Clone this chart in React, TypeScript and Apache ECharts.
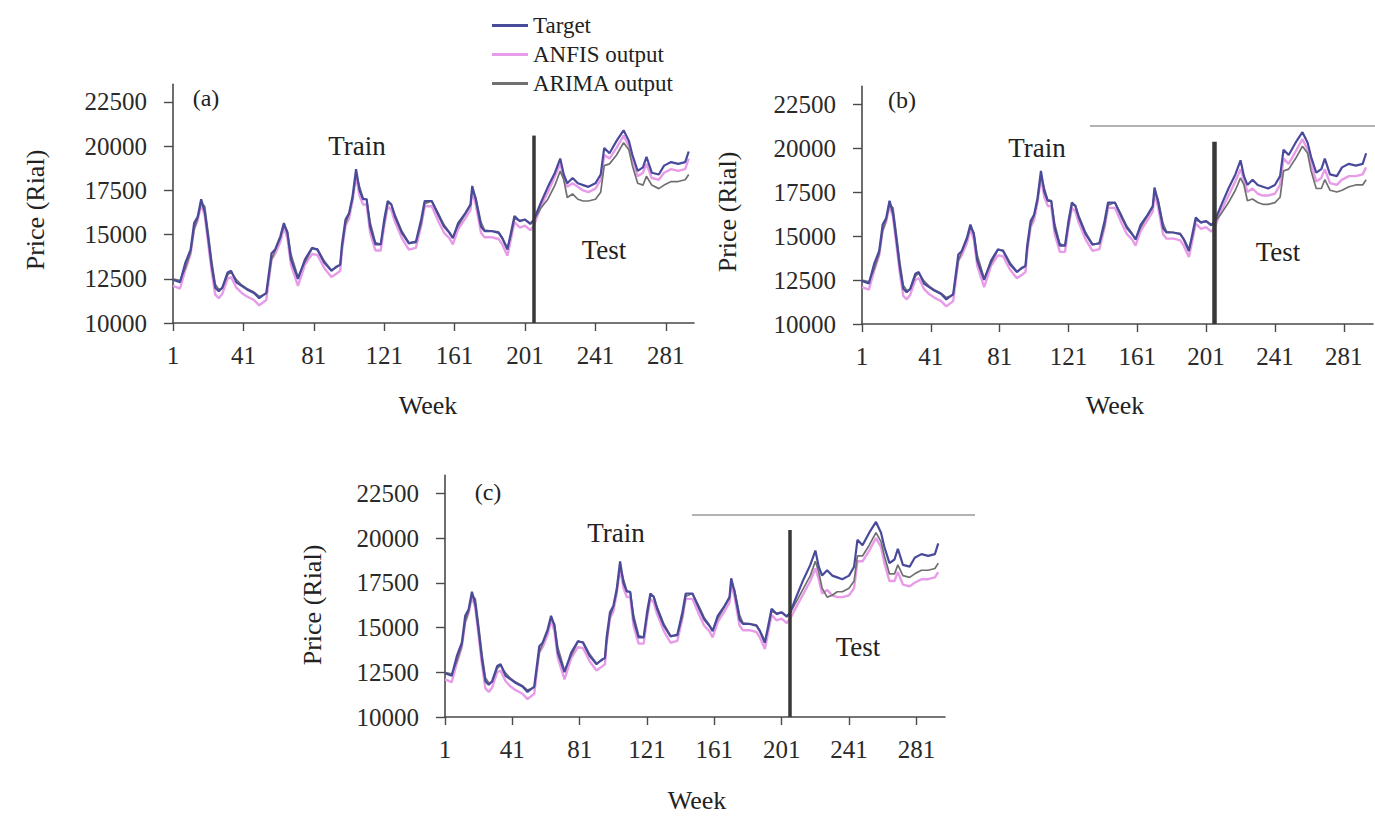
import React, { useEffect, useRef } from "react";
import * as echarts from "echarts";

// ---- data ----
const weeks = [
  1, 5, 8, 11, 13, 15, 17, 19, 21, 23, 25, 27, 29, 32, 34, 37, 40, 43, 47, 50,
  54, 57, 59, 62, 64, 66, 68, 72, 76, 80, 83, 87, 91, 94, 96, 97, 99, 101, 103, 105,
  107, 109, 111, 113, 116, 119, 121, 123, 125, 127, 131, 135, 139, 142, 144, 148, 152, 155, 158, 160,
  163, 167, 170, 171, 173, 176, 178, 182, 186, 188, 191, 193, 195, 198, 201, 204, 206,
  210, 214, 218, 221, 223, 225, 228, 231, 234, 237, 241, 244, 246, 249, 253, 257, 260, 262,
  265, 268, 270, 273, 277, 280, 284, 288, 292, 294,
];

const target = [
  12450, 12300, 13400, 14150, 15650, 16000, 17000, 16300, 14800, 13200, 12000, 11800, 12000, 12850, 12950, 12300, 12100, 11900, 11700, 11400,
  11700, 13950, 14150, 14900, 15650, 15100, 13600, 12500, 13600, 14250, 14150, 13400, 12950, 13200, 13300, 14450, 15850, 16200, 17150, 18700,
  17500, 17000, 17000, 15450, 14450, 14450, 15850, 16900, 16700, 16050, 15100, 14500, 14600, 15850, 16900, 16900, 16050, 15450, 15100, 14800,
  15650, 16200, 16700, 17750, 17000, 15450, 15200, 15200, 15100, 14800, 14150, 15100, 16050, 15750, 15850, 15600, 15850,
  16800, 17700, 18500, 19300, 18400, 17900, 18200, 17900, 17800, 17700, 17900, 18400, 19900, 19600, 20300, 20900, 20300, 19500,
  18600, 18800, 19400, 18500, 18400, 18900, 19100, 19000, 19100, 19700,
];

const anfisTrain = [
  12100, 11950, 13000, 13900, 15300, 15800, 16700, 16100, 14500, 12900, 11600, 11400, 11650, 12500, 12600, 12000, 11700, 11500, 11300, 11000,
  11300, 13600, 13900, 14600, 15400, 14800, 13300, 12100, 13300, 13900, 13850, 13100, 12600, 12800, 12950, 14100, 15500, 15900, 16900, 18300,
  17200, 16700, 16700, 15100, 14100, 14100, 15500, 16600, 16400, 15750, 14800, 14150, 14250, 15500, 16600, 16600, 15700, 15100, 14800, 14450,
  15300, 15900, 16400, 17400, 16700, 15100, 14850, 14850, 14750, 14450, 13800, 14750, 15700, 15400, 15500, 15250, 15500,
];

const arimaTrain = [
  12500, 12400, 13100, 14000, 15300, 15900, 16800, 16600, 15100, 13500, 12200, 11900, 11950, 12700, 12900, 12450, 12150, 11950, 11750, 11500,
  11650, 13600, 14100, 14800, 15500, 15200, 13900, 12600, 13450, 14200, 14200, 13500, 13000, 13150, 13300, 14200, 15600, 16150, 17000, 18400,
  17700, 17050, 17000, 15700, 14550, 14450, 15600, 16750, 16750, 16150, 15200, 14550, 14550, 15600, 16750, 16900, 16150, 15550, 15150, 14850,
  15500, 16150, 16650, 17500, 17100, 15700, 15250, 15200, 15150, 14850, 14250, 14950, 15900, 15800, 15850, 15650, 15800,
];

const anfisTestA = [
  16600, 17400, 18300, 19000, 18300, 17700, 17900, 17700, 17500, 17400, 17600, 18100, 19500, 19300, 19900, 20600, 20000, 19300,
  18300, 18500, 19000, 18200, 18100, 18500, 18700, 18600, 18700, 19300,
];
const arimaTestA = [
  16500, 17000, 17800, 18600, 18100, 17100, 17300, 17000, 16900, 16900, 17000, 17400, 18900, 19000, 19500, 20200, 19800, 18900,
  17900, 17800, 18300, 17800, 17600, 17800, 18000, 18000, 18100, 18400,
];
const anfisTestB = [
  16500, 17300, 18100, 18800, 18200, 17500, 17700, 17400, 17300, 17300, 17400, 17900, 19400, 19100, 19800, 20500, 19900, 19100,
  18100, 18300, 18800, 18000, 17900, 18200, 18400, 18400, 18500, 18900,
];
const arimaTestB = [
  16300, 16900, 17600, 18300, 17900, 17000, 17100, 16900, 16800, 16800, 16900, 17200, 18700, 18800, 19400, 20100, 19700, 18700,
  17700, 17700, 18200, 17600, 17500, 17600, 17800, 17900, 17900, 18200,
];
const anfisTestC = [
  16200, 16900, 17600, 18300, 17700, 16900, 17100, 16800, 16700, 16700, 16800, 17200, 18700, 18700, 19300, 20000, 19500, 18600,
  17600, 17600, 18100, 17400, 17300, 17500, 17700, 17700, 17800, 18100,
];
const arimaTestC = [
  16500, 17200, 17900, 18700, 18100, 17200, 16700, 16800, 17000, 17000, 17200, 17600, 19000, 19000, 19600, 20300, 19800, 19000,
  18000, 18000, 18500, 17900, 17800, 18000, 18200, 18200, 18300, 18600,
];

const xTickLabels = [1, 41, 81, 121, 161, 201, 241, 281];
const yTickLabels = [10000, 12500, 15000, 17500, 20000, 22500];
const seriesNames = ["Target", "ANFIS output", "ARIMA output"];
const panelLabels = ["(a)", "(b)", "(c)"];
const splitWeek = 206;

const FONT = "Liberation Serif";
const COLORS = { target: "#4a4a9c", anfis: "#e79be8", arima: "#707070" };

const panels = [
  {
    grid: { left: 173, top: 84.3, width: 521, height: 238.7 },
    xMax: 297,
    anfis: anfisTrain.concat(anfisTestA),
    arima: arimaTrain.concat(arimaTestA),
    dividerTop: 20600,
    dividerWidth: 3.5,
  },
  {
    grid: { left: 862, top: 86.4, width: 511, height: 237.6 },
    xMax: 298,
    anfis: anfisTrain.concat(anfisTestB),
    arima: arimaTrain.concat(arimaTestB),
    dividerTop: 20350,
    dividerWidth: 4.5,
  },
  {
    grid: { left: 445, top: 475.4, width: 500, height: 241.6 },
    xMax: 298,
    anfis: anfisTrain.concat(anfisTestC),
    arima: arimaTrain.concat(arimaTestC),
    dividerTop: 20450,
    dividerWidth: 3.5,
  },
];

const textLabels = [
  // panel a
  { t: panelLabels[0], x: 206, y: 98, s: 24 },
  { t: "Train", x: 357, y: 146, s: 27 },
  { t: "Test", x: 604, y: 250, s: 27 },
  { t: "Week", x: 428, y: 405, s: 26 },
  // panel b
  { t: panelLabels[1], x: 902, y: 100, s: 24 },
  { t: "Train", x: 1037, y: 148, s: 27 },
  { t: "Test", x: 1278, y: 252, s: 27 },
  { t: "Week", x: 1115, y: 405, s: 26 },
  // panel c
  { t: panelLabels[2], x: 488, y: 492, s: 24 },
  { t: "Train", x: 616, y: 533, s: 27 },
  { t: "Test", x: 858, y: 647, s: 27 },
  { t: "Week", x: 697, y: 800, s: 26 },
];

const yNames = [
  { x: 35, y: 210 },
  { x: 727, y: 212 },
  { x: 312, y: 605 },
];

function buildOption() {
  const grids = panels.map((p) => ({ ...p.grid, containLabel: false }));
  const xAxes = panels.map((p, i) => ({
    type: "value",
    gridIndex: i,
    min: 1,
    max: p.xMax,
    axisLine: { show: true, onZero: false, lineStyle: { color: "#4a4a4a", width: 1.6 } },
    axisTick: { show: true, length: 8, customValues: xTickLabels, lineStyle: { color: "#4a4a4a", width: 1.4 } },
    axisLabel: {
      customValues: xTickLabels,
      margin: 20,
      fontFamily: FONT,
      fontSize: 25,
      color: "#2a2a2a",
      formatter: (v: number) => String(v),
    },
    splitLine: { show: false },
  }));
  const yAxes = panels.map((p, i) => ({
    type: "value",
    gridIndex: i,
    min: 10000,
    max: 23500,
    axisLine: { show: true, onZero: false, lineStyle: { color: "#4a4a4a", width: 1.6 } },
    axisTick: { show: true, length: 9, customValues: yTickLabels, lineStyle: { color: "#4a4a4a", width: 1.4 } },
    axisLabel: {
      customValues: yTickLabels,
      margin: 26,
      fontFamily: FONT,
      fontSize: 25,
      color: "#2a2a2a",
      formatter: (v: number) => String(v),
    },
    splitLine: { show: false },
  }));

  const series: any[] = [];
  panels.forEach((p, i) => {
    series.push({
      name: seriesNames[1],
      type: "line",
      xAxisIndex: i,
      yAxisIndex: i,
      symbol: "none",
      data: weeks.map((w, k) => [w, p.anfis[k]]),
      lineStyle: { color: COLORS.anfis, width: 2.4 },
      itemStyle: { color: COLORS.anfis },
      z: 2,
    });
    series.push({
      name: seriesNames[2],
      type: "line",
      xAxisIndex: i,
      yAxisIndex: i,
      symbol: "none",
      data: weeks.map((w, k) => [w, p.arima[k]]),
      lineStyle: { color: COLORS.arima, width: 1.7 },
      itemStyle: { color: COLORS.arima },
      z: 3,
    });
    series.push({
      name: seriesNames[0],
      type: "line",
      xAxisIndex: i,
      yAxisIndex: i,
      symbol: "none",
      data: weeks.map((w, k) => [w, target[k]]),
      lineStyle: { color: COLORS.target, width: 2.2 },
      itemStyle: { color: COLORS.target },
      z: 4,
      markLine: {
        silent: true,
        symbol: "none",
        label: { show: false },
        lineStyle: { color: "#383838", width: p.dividerWidth, type: "solid" },
        data: [[{ coord: [splitWeek, 10000] }, { coord: [splitWeek, p.dividerTop] }]],
      },
    });
  });

  const graphics: any[] = [];
  textLabels.forEach((l) => {
    graphics.push({
      type: "text",
      x: l.x,
      y: l.y,
      style: {
        text: l.t,
        fontFamily: FONT,
        fontSize: l.s,
        fill: "#222",
        align: "center",
        verticalAlign: "middle",
      },
    });
  });
  yNames.forEach((n) => {
    graphics.push({
      type: "text",
      x: n.x,
      y: n.y,
      rotation: Math.PI / 2,
      style: {
        text: "Price (Rial)",
        fontFamily: FONT,
        fontSize: 26,
        fill: "#222",
        align: "center",
        verticalAlign: "middle",
      },
    });
  });
  graphics.push({
    type: "line",
    shape: { x1: 1090, y1: 126, x2: 1375, y2: 126 },
    style: { stroke: "#9a9a9a", lineWidth: 1.5 },
  });
  graphics.push({
    type: "line",
    shape: { x1: 692, y1: 515, x2: 975, y2: 515 },
    style: { stroke: "#9a9a9a", lineWidth: 1.5 },
  });

  return {
    animation: false,
    backgroundColor: "#ffffff",
    legend: {
      data: seriesNames.map((n) => ({ name: n, icon: "rect" })),
      orient: "vertical",
      left: 487,
      top: 8,
      itemWidth: 36,
      itemHeight: 3,
      itemGap: 4,
      textStyle: { fontFamily: FONT, fontSize: 23, color: "#222", lineHeight: 25 },
      selectedMode: false,
    },
    grid: grids,
    xAxis: xAxes,
    yAxis: yAxes,
    series,
    graphic: graphics,
  };
}

export default function App() {
  const ref = useRef<HTMLDivElement>(null);
  useEffect(() => {
    if (!ref.current) return;
    const chart = echarts.init(ref.current, undefined, { renderer: "svg" });
    chart.setOption(buildOption() as any);
    return () => chart.dispose();
  }, []);
  return (
    <div
      ref={ref}
      style={{ position: "fixed", left: 0, top: 0, width: 1375, height: 822, background: "#fff" }}
    />
  );
}
